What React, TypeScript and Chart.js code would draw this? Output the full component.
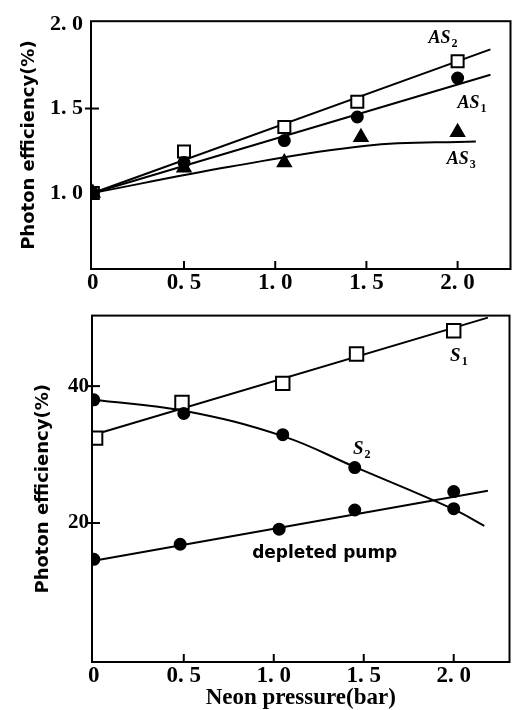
import React, { useEffect, useRef } from "react";
import { Chart, registerables } from "chart.js";
Chart.register(...registerables);

// ---------- top panel: anti-Stokes lines ----------
const pressureAS = [0, 0.5, 1.05, 1.45, 2.0];
const as2Efficiency = [1.0, 1.245, 1.39, 1.54, 1.78];
const as1Efficiency = [1.0, 1.18, 1.31, 1.45, 1.68];
const pressureAS3 = [0, 0.5, 1.05, 1.47, 2.0];
const as3Efficiency = [1.0, 1.15, 1.18, 1.33, 1.36];

const as2FitPressure = [0, 2.18];
const as2FitValues = [1.0, 1.85];
const as1FitPressure = [0, 2.18];
const as1FitValues = [1.0, 1.7];
const as3FitPressure = [0, 0.75, 1.5, 2.1];
const as3FitValues = [1.0, 1.155, 1.28, 1.305];

const topXTicks = [0, 0.5, 1.0, 1.5, 2.0];
const topYTicks = [1.0, 1.5, 2.0];

// ---------- bottom panel: Stokes lines ----------
const pressureS1 = [0.01, 0.49, 1.05, 1.46, 2.0];
const s1Efficiency = [32.4, 37.6, 40.4, 44.7, 48.1];
const pressureS2 = [0, 0.5, 1.05, 1.45, 2.0];
const s2Efficiency = [38.0, 36.0, 32.9, 28.1, 22.1];
const pressureDepleted = [0, 0.48, 1.03, 1.45, 2.0];
const depletedEfficiency = [14.7, 16.9, 19.1, 21.9, 24.6];

const s1FitPressure = [0, 2.19];
const s1FitValues = [32.9, 50.0];
const s2FitPressure = [0, 0.5, 1.05, 1.45, 2.0, 2.17];
const s2FitValues = [38.0, 36.4, 32.7, 28.2, 22.0, 19.6];
const depletedFitPressure = [0, 2.19];
const depletedFitValues = [14.5, 24.7];

const bottomXTicks = [0, 0.5, 1.0, 1.5, 2.0];
const bottomYTicks = [20, 40];

const yTitle = "Photon efficiency(%)";
const xTitle = "Neon pressure(bar)";

const pts = (xs: number[], ys: number[]) => xs.map((x, i) => ({ x, y: ys[i] }));
const fmtTick = (v: number) => (v === 0 ? "0" : v.toFixed(1).replace(".", ". "));

const framePlugin = {
  id: "frame",
  afterDatasetsDraw(chart: any, _args: any, opts: any) {
    const { ctx, chartArea: a, scales } = chart;
    ctx.save();
    ctx.strokeStyle = "#000";
    ctx.lineWidth = 2;
    ctx.strokeRect(a.left, a.top, a.right - a.left, a.bottom - a.top);
    (opts.xMarks || []).forEach((v: number) => {
      const px = scales.x.getPixelForValue(v);
      ctx.beginPath();
      ctx.moveTo(px, a.bottom);
      ctx.lineTo(px, a.bottom - 8);
      ctx.stroke();
    });
    (opts.yMarks || []).forEach((v: number) => {
      const py = scales.y.getPixelForValue(v);
      ctx.beginPath();
      ctx.moveTo(a.left - 6, py);
      ctx.lineTo(a.left + 8, py);
      ctx.stroke();
    });
    ctx.restore();
  },
};

const notesPlugin = {
  id: "notes",
  afterDraw(chart: any, _args: any, opts: any) {
    const { ctx, scales } = chart;
    ctx.save();
    ctx.fillStyle = "#000";
    ctx.textBaseline = "alphabetic";
    ctx.textAlign = "left";
    (opts.items || []).forEach((it: any) => {
      const px = scales.x.getPixelForValue(it.x);
      const py = scales.y.getPixelForValue(it.y);
      ctx.font = it.font;
      ctx.fillText(it.main, px, py);
      if (it.sub) {
        const w = ctx.measureText(it.main).width;
        ctx.font = it.subFont;
        ctx.fillText(it.sub, px + w + 1, py + 4);
      }
    });
    ctx.restore();
  },
};

const pointSet = (data: any[], style: string, radius: number, fill: string) => ({
  data,
  showLine: false,
  pointStyle: style,
  pointRadius: radius,
  pointBackgroundColor: fill,
  pointBorderColor: "#000",
  pointBorderWidth: 2,
});

const lineSet = (data: any[], curved = false) => ({
  data,
  showLine: true,
  borderColor: "#000",
  borderWidth: 2,
  pointRadius: 0,
  tension: curved ? 0.4 : 0,
});

const tickFont = (size: number) => ({ family: "'Liberation Serif', serif", size, weight: "bold" as const });
const titleFont = { family: "'DejaVu Sans', sans-serif", size: 18, weight: "bold" as const };

function TopChart() {
  const ref = useRef<HTMLCanvasElement>(null);
  useEffect(() => {
    const chart = new Chart(ref.current!, {
      type: "scatter",
      data: {
        datasets: [
          pointSet(pts(pressureAS, as1Efficiency), "circle", 5.5, "#000"),
          pointSet(pts(pressureAS3, as3Efficiency), "triangle", 7.5, "#000"),
          pointSet(pts(pressureAS, as2Efficiency), "rect", 8.5, "#fff"),
          lineSet(pts(as2FitPressure, as2FitValues)),
          lineSet(pts(as1FitPressure, as1FitValues)),
          lineSet(pts(as3FitPressure, as3FitValues), true),
        ] as any,
      },
      options: {
        responsive: false,
        animation: false,
        layout: { padding: { top: 12, right: 4, left: 0, bottom: 0 } },
        plugins: {
          legend: { display: false },
          tooltip: { enabled: false },
          frame: { xMarks: [0.5, 1.0, 1.5, 2.0], yMarks: [1.5] },
          notes: {
            items: [
              { x: 1.84, y: 1.886, main: "AS", sub: "2", font: "italic bold 18px 'Liberation Serif'", subFont: "bold 12px 'Liberation Serif'" },
              { x: 2.0, y: 1.503, main: "AS", sub: "1", font: "italic bold 18px 'Liberation Serif'", subFont: "bold 12px 'Liberation Serif'" },
              { x: 1.94, y: 1.171, main: "AS", sub: "3", font: "italic bold 18px 'Liberation Serif'", subFont: "bold 12px 'Liberation Serif'" },
            ],
          },
        } as any,
        scales: {
          x: {
            type: "linear",
            min: -0.01,
            max: 2.29,
            grid: { display: false, drawTicks: false },
            border: { display: false },
            afterBuildTicks: (s: any) => { s.ticks = topXTicks.map((v) => ({ value: v })); },
            afterFit: (s: any) => { s.height = 31; },
            ticks: { color: "#000", font: tickFont(23), padding: 0, maxRotation: 0, autoSkip: false, callback: (v: any) => fmtTick(Number(v)) },
          },
          y: {
            type: "linear",
            min: 0.55,
            max: 2.017,
            grid: { display: false, drawTicks: false },
            border: { display: false },
            afterBuildTicks: (s: any) => { s.ticks = topYTicks.map((v) => ({ value: v })); },
            afterFit: (s: any) => { s.width = 91; },
            ticks: { color: "#000", font: tickFont(22), padding: 8, autoSkip: false, callback: (v: any) => fmtTick(Number(v)) },
            title: {
              display: true,
              text: yTitle,
              color: "#000",
              font: titleFont,
              padding: { top: 19, bottom: 0 },
            },
          },
        },
      } as any,
      plugins: [framePlugin, notesPlugin],
    });
    return () => chart.destroy();
  }, []);
  return <canvas ref={ref} width={521} height={300} style={{ display: "block" }} />;
}

function BottomChart() {
  const ref = useRef<HTMLCanvasElement>(null);
  useEffect(() => {
    const chart = new Chart(ref.current!, {
      type: "scatter",
      data: {
        datasets: [
          pointSet(pts(pressureS2, s2Efficiency), "circle", 5.5, "#000"),
          pointSet(pts(pressureDepleted, depletedEfficiency), "circle", 5.5, "#000"),
          pointSet(pts(pressureS1, s1Efficiency), "rect", 9.5, "#fff"),
          lineSet(pts(s1FitPressure, s1FitValues)),
          lineSet(pts(s2FitPressure, s2FitValues), true),
          lineSet(pts(depletedFitPressure, depletedFitValues)),
        ] as any,
      },
      options: {
        responsive: false,
        animation: false,
        layout: { padding: { top: 8, right: 4, left: 0, bottom: 0 } },
        plugins: {
          legend: { display: false },
          tooltip: { enabled: false },
          frame: { xMarks: [0.5, 1.0, 1.5, 2.0], yMarks: [20, 40] },
          notes: {
            items: [
              { x: 1.98, y: 43.6, main: "S", sub: "1", font: "italic bold 19px 'Liberation Serif'", subFont: "bold 12px 'Liberation Serif'" },
              { x: 1.44, y: 30.1, main: "S", sub: "2", font: "italic bold 19px 'Liberation Serif'", subFont: "bold 12px 'Liberation Serif'" },
              { x: 0.88, y: 14.9, main: "depleted pump", font: "bold 17px 'DejaVu Sans'" },
            ],
          },
        } as any,
        scales: {
          x: {
            type: "linear",
            min: -0.01,
            max: 2.31,
            grid: { display: false, drawTicks: false },
            border: { display: false },
            afterBuildTicks: (s: any) => { s.ticks = bottomXTicks.map((v) => ({ value: v })); },
            afterFit: (s: any) => { s.height = 48; },
            ticks: { color: "#000", font: tickFont(23), padding: 0, maxRotation: 0, autoSkip: false, callback: (v: any) => fmtTick(Number(v)) },
            title: {
              display: true,
              text: xTitle,
              color: "#000",
              font: { family: "'Liberation Serif', serif", size: 23, weight: "bold" },
              padding: { top: 0, bottom: -2 },
            },
          },
          y: {
            type: "linear",
            min: -0.3,
            max: 50.3,
            grid: { display: false, drawTicks: false },
            border: { display: false },
            afterBuildTicks: (s: any) => { s.ticks = bottomYTicks.map((v) => ({ value: v })); },
            afterFit: (s: any) => { s.width = 92; },
            ticks: { color: "#000", font: tickFont(21), padding: 3, autoSkip: false },
            title: {
              display: true,
              text: yTitle,
              color: "#000",
              font: titleFont,
              padding: { top: 33, bottom: 0 },
            },
          },
        },
      } as any,
      plugins: [framePlugin, notesPlugin],
    });
    return () => chart.destroy();
  }, []);
  return <canvas ref={ref} width={521} height={410} style={{ display: "block" }} />;
}

export default function App() {
  return (
    <div style={{ position: "absolute", left: 0, top: 0, width: 521, height: 710, background: "#fff" }}>
      <TopChart />
      <BottomChart />
    </div>
  );
}
